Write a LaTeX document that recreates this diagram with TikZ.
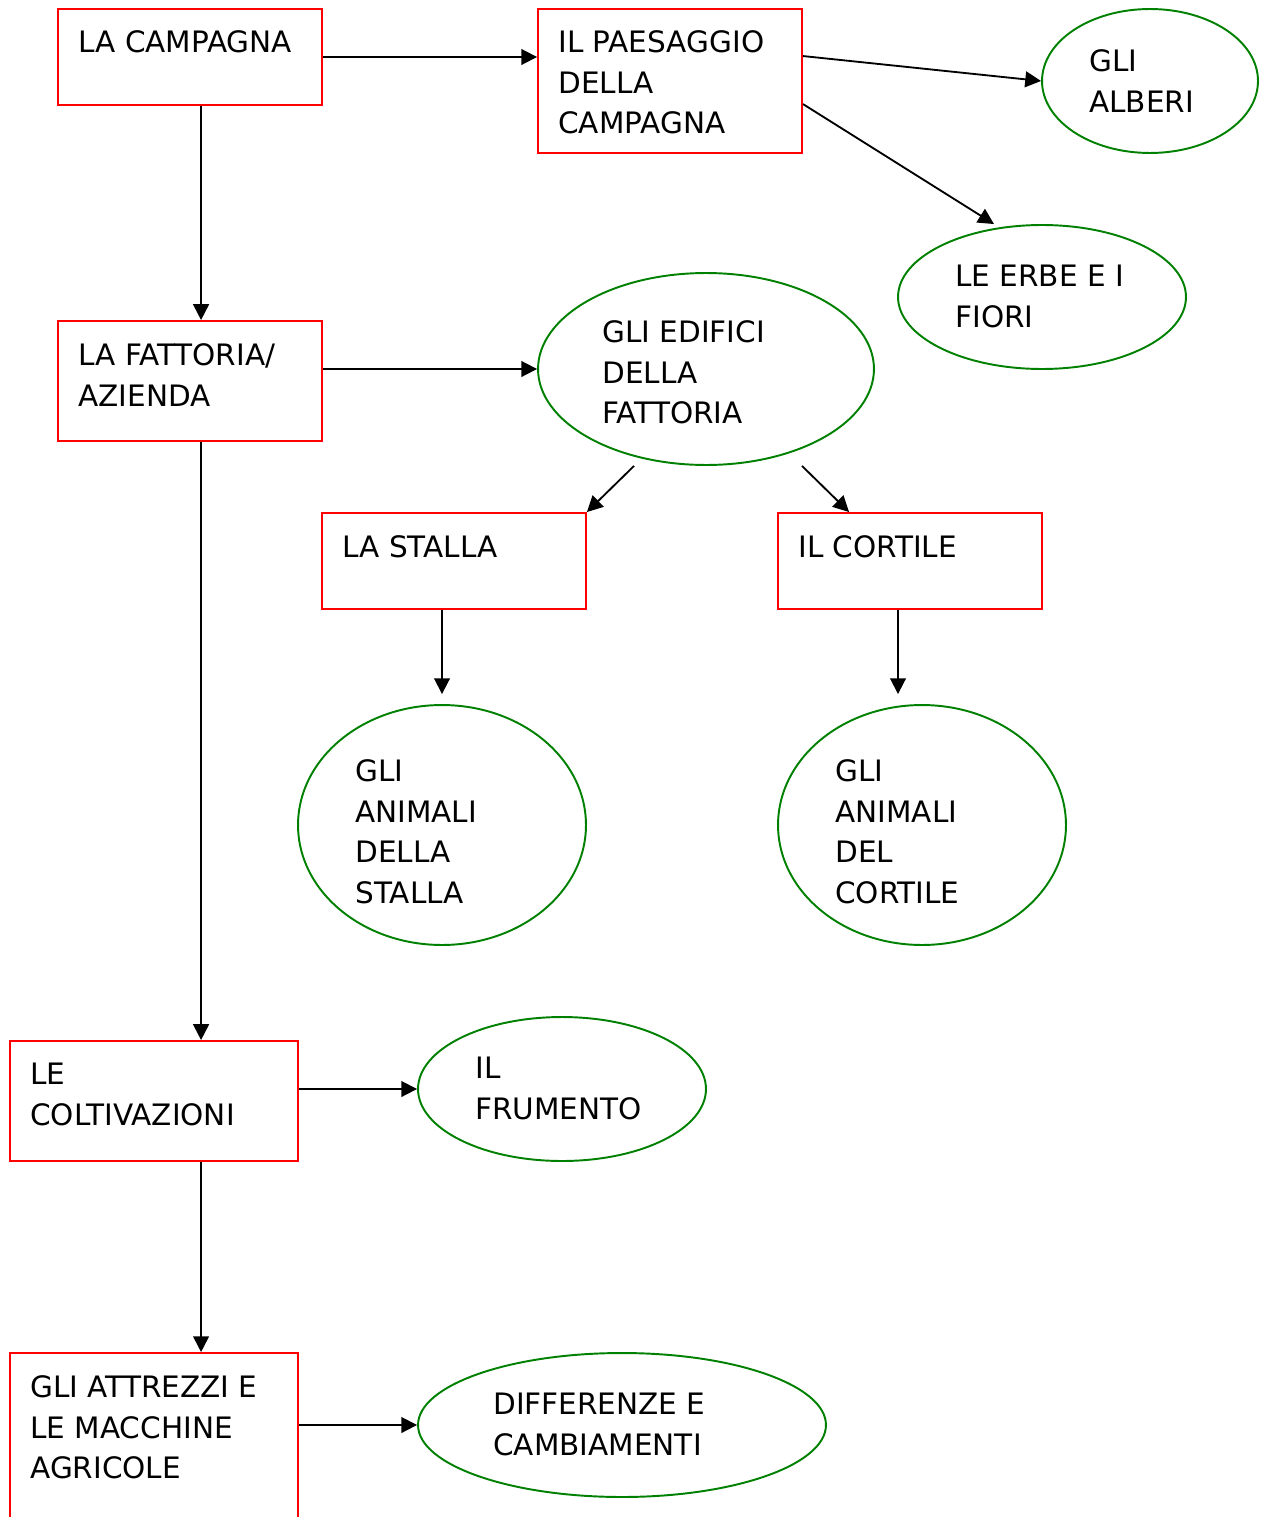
\documentclass[tikz,border=0pt]{standalone}
\usepackage{fontspec}
\setmainfont{DejaVu Sans}
\usetikzlibrary{shapes.geometric,arrows.meta,calc}
\definecolor{boxred}{RGB}{255,0,0}
\definecolor{ellgreen}{RGB}{0,128,0}
\tikzset{
  boxnode/.style={draw=boxred, line width=1.1pt, rectangle, inner sep=0pt},
  ellnode/.style={draw=ellgreen, line width=1.1pt, ellipse, inner sep=0pt},
  txt/.style={anchor=north west, inner sep=0pt, align=left, text=black,
    font=\fontsize{16.8}{23.2}\selectfont},
  arr/.style={draw=black, line width=1.05pt, -{Triangle[length=9pt,width=9pt]}}
}
\begin{document}
\begin{tikzpicture}[x=0.02cm, y=-0.02cm]
\useasboundingbox (0,0) rectangle (1263,1517);
\clip (0,0) rectangle (1263,1517);
% shapes
\node[boxnode, minimum width=5.28cm, minimum height=1.92cm] (b1) at (190,57) {};
\node[boxnode, minimum width=5.28cm, minimum height=2.88cm] (b2) at (670,81) {};
\node[ellnode, minimum width=4.32cm, minimum height=2.88cm] (alberi) at (1150,81) {};
\node[ellnode, minimum width=5.76cm, minimum height=2.88cm] (erbe) at (1042,297) {};
\node[boxnode, minimum width=5.28cm, minimum height=2.4cm] (b3) at (190,381) {};
\node[ellnode, minimum width=6.72cm, minimum height=3.84cm] (edifici) at (706,369) {};
\node[boxnode, minimum width=5.28cm, minimum height=1.92cm] (stalla) at (454,561) {};
\node[boxnode, minimum width=5.28cm, minimum height=1.92cm] (cortile) at (910,561) {};
\node[ellnode, minimum width=5.76cm, minimum height=4.8cm] (anst) at (442,825) {};
\node[ellnode, minimum width=5.76cm, minimum height=4.8cm] (ancort) at (922,825) {};
\node[boxnode, minimum width=5.76cm, minimum height=2.4cm] (colt) at (154,1101) {};
\node[ellnode, minimum width=5.76cm, minimum height=2.88cm] (frum) at (562,1089) {};
\node[boxnode, minimum width=5.76cm, minimum height=4.14cm] (attr) at (154,1456.5) {};
\node[ellnode, minimum width=8.16cm, minimum height=2.88cm] (diff) at (622,1425) {};
% texts
\node[txt] (t1) at (78,30) {LA CAMPAGNA};
\node[txt] (t2) at (558,30) {IL PAESAGGIO\\DELLA\\CAMPAGNA};
\node[txt] (t3) at (1089,49) {GLI\\ALBERI};
\node[txt] (t4) at (955,265) {LE ERBE E I\\FIORI};
\node[txt] (t5) at (78,343) {LA FATTORIA/\\AZIENDA};
\node[txt] (t6) at (602,320) {GLI EDIFICI\\DELLA\\FATTORIA};
\node[txt] (t7) at (342,535) {LA STALLA};
\node[txt] (t8) at (798,535) {IL CORTILE};
\node[txt] (t9) at (355,759) {GLI\\ANIMALI\\DELLA\\STALLA};
\node[txt] (t10) at (835,759) {GLI\\ANIMALI\\DEL\\CORTILE};
\node[txt] (t11) at (30,1063) {LE\\COLTIVAZIONI};
\node[txt] (t12) at (475,1057) {IL\\FRUMENTO};
\node[txt] (t13) at (30,1375) {GLI ATTREZZI E\\LE MACCHINE\\AGRICOLE};
\node[txt] (t14) at (493,1393) {DIFFERENZE E\\CAMBIAMENTI};
% connectors
\coordinate (c1) at ($(b1.south west)+(144,0)$);
\draw[arr] (b1.east) -- (b1.east -| b2.west);
\draw[arr] ($(b2.north east)+(0,48)$) -- (alberi.west);
\draw[arr] ($(b2.north east)+(0,96)$) -- ($(erbe.north)+(-48,0)$);
\draw[arr] (c1) -- (c1 |- b3.north);
\draw[arr] (edifici.west -| b3.east) -- (edifici.west);
\draw[arr] ($(edifici.south)+(-72,0)$) -- (stalla.north east);
\draw[arr] ($(edifici.south)+(96,0)$) -- ($(cortile.north west)+(72,0)$);
\draw[arr] ($(stalla.south)+(-12,0)$) -- ($(anst.north)+(0,-10)$);
\draw[arr] ($(cortile.south)+(-12,0)$) -- ($(ancort.north)+(-24,-10)$);
\draw[arr] (c1 |- b3.south) -- (c1 |- colt.north);
\draw[arr] (frum.west -| colt.east) -- (frum.west);
\draw[arr] (c1 |- colt.south) -- (c1 |- attr.north);
\draw[arr] (diff.west -| attr.east) -- (diff.west);
\end{tikzpicture}
\end{document}
